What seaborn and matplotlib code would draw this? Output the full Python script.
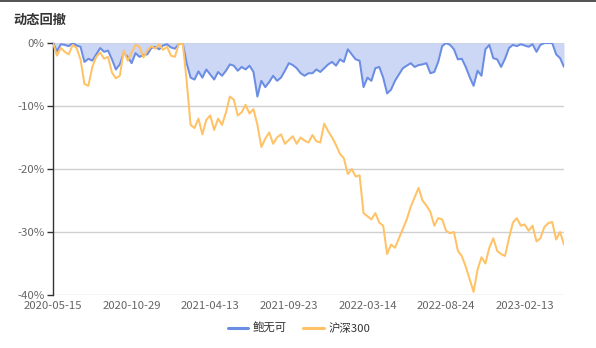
import numpy as np
import pandas as pd
import matplotlib
matplotlib.use("Agg")
import matplotlib.pyplot as plt
from matplotlib.patches import Rectangle
import seaborn as sns

# Drawdown series (%), sampled at evenly spaced trading sessions
fund_name = "鲍无可"
index_name = "沪深300"

fund_drawdown = [
    0, -1.3, -0.2, -0.3, -0.5, 0, -0.4, -0.6, -3.0, -2.5,
    -2.8, -1.8, -0.8, -1.4, -1.2, -2.6, -4.2, -3.4, -1.6, -2.2,
    -3.2, -1.6, -2.2, -1.9, -1.8, -0.8, -0.6, -1.0, -0.4, -0.2,
    -0.7, -0.9, -0.2, 0, -3.2, -5.5, -5.8, -4.5, -5.5, -4.2,
    -5.0, -5.8, -4.6, -5.2, -4.4, -3.4, -3.6, -4.4, -3.8, -4.2,
    -3.6, -4.6, -8.5, -6.0, -7.0, -6.2, -5.2, -6.0, -5.5, -4.4,
    -3.2, -3.5, -4.0, -4.8, -5.2, -4.8, -4.8, -4.2, -4.6, -4.0,
    -3.4, -3.0, -3.6, -2.6, -3.0, -1.0, -1.8, -2.6, -2.8, -7.0,
    -5.5, -6.0, -4.0, -3.8, -5.5, -8.0, -7.4, -6.0, -5.0, -4.0,
    -3.6, -3.2, -3.8, -3.5, -3.4, -3.2, -4.8, -4.6, -3.0, -0.5,
    0, -0.3, -1.0, -2.6, -2.5, -3.8, -5.4, -6.8, -4.4, -5.2,
    -1.0, -0.3, -2.4, -2.6, -3.8, -2.5, -0.8, -0.3, -0.5, -0.2,
    -0.4, -0.6, -0.2, -1.4, -0.3, 0, 0, 0, -1.8, -2.4,
    -3.8,
]

index_drawdown = [
    0, -2.0, -0.8, -1.4, -1.8, -0.3, -0.8, -2.6, -6.5, -6.8,
    -3.8, -2.2, -1.5, -2.5, -2.2, -4.7, -5.6, -5.2, -1.2, -2.8,
    -1.5, -0.3, -0.6, -2.3, -1.2, -0.5, -0.9, -0.2, -1.1, -0.6,
    -2.0, -2.2, -0.2, 0, -6.0, -13.0, -13.5, -12.0, -14.5, -12.2,
    -11.5, -13.8, -12.0, -13.0, -11.0, -8.5, -9.0, -11.5, -11.0, -9.8,
    -11.2, -10.5, -13.0, -16.5, -15.2, -14.2, -16.0, -15.0, -14.5, -16.0,
    -15.4, -14.8, -16.0, -15.0, -15.5, -15.8, -14.6, -15.6, -15.8, -12.8,
    -14.0, -15.0, -16.2, -17.6, -18.3, -20.8, -20.0, -21.2, -21.0, -27.0,
    -27.5, -28.0, -27.0, -28.5, -29.0, -33.5, -32.0, -32.5, -31.0, -29.5,
    -28.0, -26.0, -24.5, -23.0, -25.0, -25.8, -26.8, -29.0, -27.8, -28.0,
    -29.8, -30.2, -30.0, -33.0, -33.8, -35.5, -37.5, -39.5, -36.0, -34.0,
    -35.0, -32.5, -31.0, -33.0, -33.5, -33.8, -31.0, -28.5, -27.8, -29.0,
    -28.8, -29.8, -29.0, -31.5, -31.0, -29.2, -28.6, -28.4, -31.2, -30.0,
    -32.0,
]

date_labels = ["2020-05-15", "2020-10-29", "2021-04-13", "2021-09-23",
               "2022-03-14", "2022-08-24", "2023-02-13"]
label_step = 20
y_ticks = [0, -10, -20, -30, -40]

fund_color = "#6b8de3"
fill_color = "#ccd7f5"
index_color = "#ffc266"

n = len(fund_drawdown)
session = np.arange(n)
df = pd.DataFrame({
    "session": np.concatenate([session, session]),
    "drawdown": fund_drawdown + index_drawdown,
    "series": [fund_name] * n + [index_name] * n,
})

sns.set_theme(style="white")
plt.rcParams["font.family"] = ["Noto Sans CJK SC", "DejaVu Sans"]

W, H = 596, 348
fig = plt.figure(figsize=(W / 100, H / 100), dpi=100)
ax = fig.add_axes([53 / W, 1 - 295 / H, (564 - 53) / W, (295 - 43) / H])

ax.fill_between(session, fund_drawdown, 0, color=fill_color, lw=0, zorder=1)
sns.lineplot(data=df, x="session", y="drawdown", hue="series",
             palette={fund_name: fund_color, index_name: index_color},
             hue_order=[fund_name, index_name],
             linewidth=1.45, ax=ax, legend=False, zorder=3)

ax.set_xlim(0, n - 1)
ax.set_ylim(-40, 0)
ax.set_xlabel("")
ax.set_ylabel("")

ax.set_yticks(y_ticks)
ax.set_yticklabels([f"{v}%" for v in y_ticks], color="#666666", fontsize=8.2)
ax.set_xticks([i * label_step for i in range(len(date_labels))])
ax.set_xticklabels(date_labels, color="#666666", fontsize=8.2)
ax.tick_params(axis="x", length=0, pad=4)
ax.tick_params(axis="y", length=4, width=1, color="#333333", pad=2, left=True)

ax.grid(axis="y", color="#d0d0d0", linewidth=1)
ax.grid(axis="x", visible=False)
for side in ["top", "right", "bottom"]:
    ax.spines[side].set_visible(False)
ax.spines["left"].set_color("#333333")
ax.spines["left"].set_linewidth(1)
ax.set_axisbelow(True)

# Title
fig.text(13 / W, 1 - 20 / H, "动态回撤", fontsize=9.5, fontweight="bold",
         color="#333333", va="center", ha="left")

# Legend
handles = [plt.Line2D([], [], color=fund_color, lw=2.2),
           plt.Line2D([], [], color=index_color, lw=2.2)]
fig.legend(handles, [fund_name, index_name], loc="center",
           bbox_to_anchor=(299 / W, 1 - 328 / H), ncol=2, frameon=False,
           fontsize=8.2, handlelength=1.8, handletextpad=0.4,
           columnspacing=1.4, labelcolor="#333333")

# Top border
fig.add_artist(Rectangle((0, 1 - 1.5 / H), 1, 1.5 / H, transform=fig.transFigure,
                         color="#555555", lw=0))

fig.savefig("out.png", dpi=100)
